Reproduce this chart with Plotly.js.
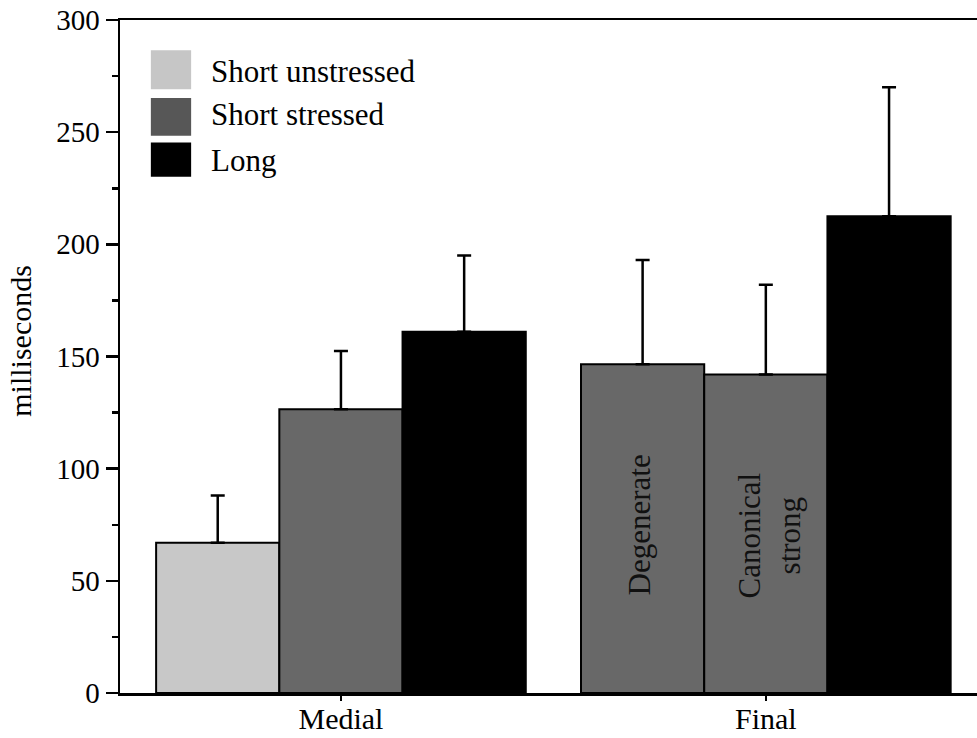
<!DOCTYPE html>
<html>
<head>
<meta charset="utf-8">
<script src="https://cdn.plot.ly/plotly-3.0.1.min.js"></script>
<style>
  html, body { margin: 0; padding: 0; background: #fff; }
  #chart { width: 977px; height: 738px; }
</style>
</head>
<body>
<div id="chart"></div>
<script>
// Vowel durations by position (ms), mean with upward SD bar.
const positions = ['Medial', 'Final'];

// First, second and third bar in each position group
const firstBar  = [67, 146.5];
const firstErr  = [21, 46.5];
const secondBar = [126.5, 142];
const secondErr = [26, 40];
const thirdBar  = [161, 212.5];
const thirdErr  = [34, 57.5];

// Which vowel class each bar belongs to
const firstClass  = ['Short unstressed', 'Short stressed'];
const secondClass = ['Short stressed', 'Short stressed'];
const thirdClass  = ['Long', 'Long'];

const legendClasses = ['Short unstressed', 'Short stressed', 'Long'];
const inBarLabels = ['Degenerate', 'Canonical<br>strong'];
const yTitle = 'milliseconds';

const barFill = {
  'Short unstressed': '#c8c8c8',
  'Short stressed': '#686868',
  'Long': '#000000'
};
const swatchFill = {
  'Short unstressed': '#c6c6c6',
  'Short stressed': '#575757',
  'Long': '#000000'
};

const serif = 'Liberation Serif, Times New Roman, serif';

function barTrace(values, errs, classes) {
  return {
    type: 'bar',
    x: positions,
    y: values,
    marker: {
      color: classes.map(c => barFill[c]),
      line: { color: '#000', width: 2 }
    },
    error_y: {
      type: 'data',
      symmetric: false,
      array: errs,
      arrayminus: errs.map(() => 0),
      color: '#000',
      thickness: 2.5,
      width: 7
    },
    showlegend: false,
    hoverinfo: 'y'
  };
}

const traces = [
  barTrace(firstBar, firstErr, firstClass),
  barTrace(secondBar, secondErr, secondClass),
  barTrace(thirdBar, thirdErr, thirdClass)
];

// Hand-drawn legend: square swatches and labels in the upper left
const shapes = [];
const annotations = [];
legendClasses.forEach((name, i) => {
  const top = [0.955, 0.884, 0.818][i];
  const h = [0.058, 0.056, 0.051][i];
  shapes.push({
    type: 'rect', xref: 'paper', yref: 'paper',
    x0: 0.036, x1: 0.083, y0: top - h, y1: top,
    fillcolor: swatchFill[name], line: { width: 0 }
  });
  annotations.push({
    xref: 'paper', yref: 'paper',
    x: 0.104, y: [0.924, 0.859, 0.791][i],
    xanchor: 'left', yanchor: 'middle',
    text: name, showarrow: false,
    font: { family: serif, size: 31, color: '#000' }
  });
});

// Sub-category labels written inside the final short-stressed bars
const barWidth = 0.87 / 3;
annotations.push({
  xref: 'x', yref: 'y', x: 1 - barWidth - 0.008, y: 74.8,
  text: inBarLabels[0], textangle: -90, showarrow: false,
  font: { family: serif, size: 31, color: '#111' }
});
annotations.push({
  xref: 'x', yref: 'y', x: 1 + 0.008, y: 70.3,
  text: inBarLabels[1], textangle: -90, showarrow: false,
  font: { family: serif, size: 31, color: '#111' }
});

// Rotated y-axis title
annotations.push({
  xref: 'paper', yref: 'paper', x: -0.117, y: 0.523,
  xanchor: 'center', yanchor: 'middle',
  text: yTitle, textangle: -90, showarrow: false,
  font: { family: serif, size: 30, color: '#000' }
});

const layout = {
  width: 977,
  height: 738,
  margin: { l: 120, r: 0, t: 20, b: 45 },
  paper_bgcolor: '#fff',
  plot_bgcolor: '#fff',
  barmode: 'group',
  bargap: 0.13,
  bargroupgap: 0,
  font: { family: serif, size: 29, color: '#000' },
  xaxis: {
    type: 'category',
    range: [-0.52, 1.497],
    showline: true, linecolor: '#000', linewidth: 2.5,
    mirror: true,
    ticks: 'outside', ticklen: 5, tickwidth: 2, tickcolor: '#000',
    ticklabelstandoff: -8,
    showgrid: false, zeroline: false,
    tickfont: { family: serif, size: 30, color: '#000' },
    fixedrange: true
  },
  yaxis: {
    range: [0, 300],
    dtick: 50,
    showline: true, linecolor: '#000', linewidth: 2.5,
    ticks: 'outside', ticklen: 12, tickwidth: 2.5, tickcolor: '#000',
    ticklabelstandoff: 0,
    minor: { dtick: 25, ticks: 'outside', ticklen: 6, tickwidth: 2.5, tickcolor: '#000' },
    showgrid: false, zeroline: false,
    tickfont: { family: serif, size: 29, color: '#000' },
    fixedrange: true
  },
  shapes: shapes,
  annotations: annotations
};

Plotly.newPlot('chart', traces, layout, { displayModeBar: false, staticPlot: true });
</script>
</body>
</html>
